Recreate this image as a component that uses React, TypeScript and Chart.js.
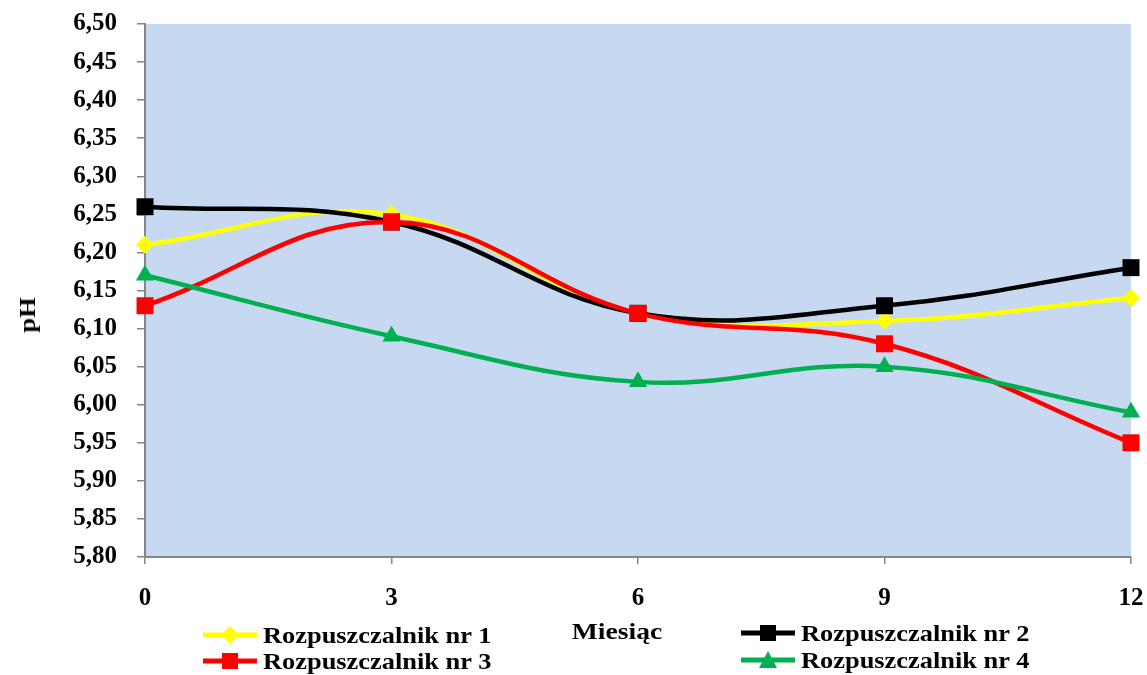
import React, { useEffect, useRef } from "react";
import { Chart, registerables } from "chart.js";

Chart.register(...registerables);

const months = [0, 3, 6, 9, 12];
const seriesNames = [
  "Rozpuszczalnik nr 1",
  "Rozpuszczalnik nr 2",
  "Rozpuszczalnik nr 3",
  "Rozpuszczalnik nr 4",
];
const solvent1 = [6.21, 6.25, 6.12, 6.11, 6.14];
const solvent2 = [6.26, 6.24, 6.12, 6.13, 6.18];
const solvent3 = [6.13, 6.24, 6.12, 6.08, 5.95];
const solvent4 = [6.17, 6.09, 6.03, 6.05, 5.99];
const yMin = 5.8;
const yMax = 6.5;
const yStep = 0.05;
const xTitle = "Miesiąc";
const yTitle = "pH";

const colors = ["#FFFF00", "#000000", "#FF0000", "#00B050"];
const shapes = ["rectRot", "rect", "rect", "triangle"];
const radii = [9, 12, 12, 10.5];

const FONT = "'Liberation Serif', 'Times New Roman', serif";
const AXIS = "#868686";

const bgPlugin = {
  id: "plotBg",
  beforeDraw(chart: any) {
    const { ctx, chartArea } = chart;
    if (!chartArea) return;
    ctx.save();
    ctx.fillStyle = "#C6D9F1";
    ctx.fillRect(chartArea.left, chartArea.top, chartArea.right - chartArea.left, chartArea.bottom - chartArea.top);
    ctx.restore();
  },
};

function LegendMarker({ idx }: { idx: number }) {
  const c = colors[idx];
  let marker: any = null;
  if (idx === 0) marker = <polygon points="27,-1 36,8 27,17 18,8" fill={c} />;
  else if (idx === 3) marker = <polygon points="27,-1 36,16 18,16" fill={c} />;
  else marker = <rect x={19} y={0} width={16} height={16} fill={c} />;
  return (
    <svg width={56} height={18} viewBox="0 -1 56 18" style={{ display: "block", overflow: "visible" }}>
      <line x1={0} y1={8} x2={54} y2={8} stroke={c} strokeWidth={5} />
      {marker}
    </svg>
  );
}

export default function App() {
  const canvasRef = useRef<HTMLCanvasElement | null>(null);

  useEffect(() => {
    const canvas = canvasRef.current;
    if (!canvas) return;
    const all = [solvent1, solvent2, solvent3, solvent4];
    const datasets = all.map((vals, i) => ({
      label: seriesNames[i],
      data: months.map((m, j) => ({ x: m, y: vals[j] })),
      borderColor: colors[i],
      backgroundColor: colors[i],
      borderWidth: 4.5,
      pointStyle: shapes[i],
      pointRadius: radii[i],
      pointBorderWidth: 0,
      pointBackgroundColor: colors[i],
      tension: 0.4,
      cubicInterpolationMode: "default",
      order: 4 - i,
      fill: false,
      clip: false,
    }));
    const chart = new Chart(canvas, {
      type: "line",
      data: { datasets } as any,
      plugins: [bgPlugin],
      options: {
        animation: false,
        responsive: false,
        maintainAspectRatio: false,
        layout: { padding: { left: 0, top: 24, right: 16, bottom: 0 } },
        plugins: {
          legend: { display: false },
          tooltip: { enabled: false },
          title: { display: false },
        },
        scales: {
          x: {
            type: "linear",
            min: 0,
            max: 12,
            ticks: {
              stepSize: 3,
              color: "#000",
              padding: 20,
              font: { family: FONT, size: 25, weight: "bold" },
            },
            grid: { drawOnChartArea: false, drawTicks: true, tickLength: 7, color: AXIS, lineWidth: 1.5 },
            border: { color: AXIS, width: 2 },
            afterFit(scale: any) {
              scale.height = 118;
              scale.paddingLeft = 0;
              scale.paddingRight = 0;
            },
          },
          y: {
            type: "linear",
            min: yMin,
            max: yMax,
            ticks: {
              stepSize: yStep,
              color: "#000",
              padding: 20,
              font: { family: FONT, size: 25, weight: "bold" },
              callback: (v: any) => Number(v).toFixed(2).replace(".", ","),
            },
            grid: { drawOnChartArea: false, drawTicks: true, tickLength: 8, color: AXIS, lineWidth: 1.5 },
            border: { color: AXIS, width: 2 },
            afterFit(scale: any) {
              scale.width = 145;
              scale.paddingTop = 0;
              scale.paddingBottom = 0;
            },
          },
        },
      } as any,
    });
    return () => chart.destroy();
  }, []);

  const textStyle: any = {
    position: "absolute",
    fontFamily: FONT,
    fontWeight: "bold",
    fontSize: 24,
    color: "#000",
    lineHeight: "26px",
    whiteSpace: "nowrap",
  };

  const legendPos = [
    { x: 203, y: 635 },
    { x: 741, y: 633 },
    { x: 203, y: 661 },
    { x: 741, y: 660 },
  ];

  return (
    <div style={{ position: "absolute", left: 0, top: 0, width: 1147, height: 675, background: "#fff", overflow: "hidden" }}>
      <canvas ref={canvasRef} width={1147} height={675} style={{ position: "absolute", left: 0, top: 0, width: 1147, height: 675 }} />
      <div
        style={{
          ...textStyle,
          left: 27,
          top: 315,
          transform: "translate(-50%, -50%) rotate(-90deg) scaleX(1.1)",
        }}
      >
        {yTitle}
      </div>
      <div style={{ ...textStyle, left: 617, top: 631, transform: "translate(-50%, -50%) scaleX(1.15)" }}>{xTitle}</div>
      {seriesNames.map((name, i) => (
        <div
          key={name}
          style={{
            position: "absolute",
            left: legendPos[i].x,
            top: legendPos[i].y - 13,
            height: 26,
            display: "flex",
            alignItems: "center",
          }}
        >
          <LegendMarker idx={i} />
          <span
            style={{
              fontFamily: FONT,
              fontWeight: "bold",
              fontSize: 24,
              lineHeight: "26px",
              marginLeft: 4,
              whiteSpace: "nowrap",
              display: "inline-block",
              transform: "scaleX(1.1)",
              transformOrigin: "left center",
            }}
          >
            {name}
          </span>
        </div>
      ))}
    </div>
  );
}
